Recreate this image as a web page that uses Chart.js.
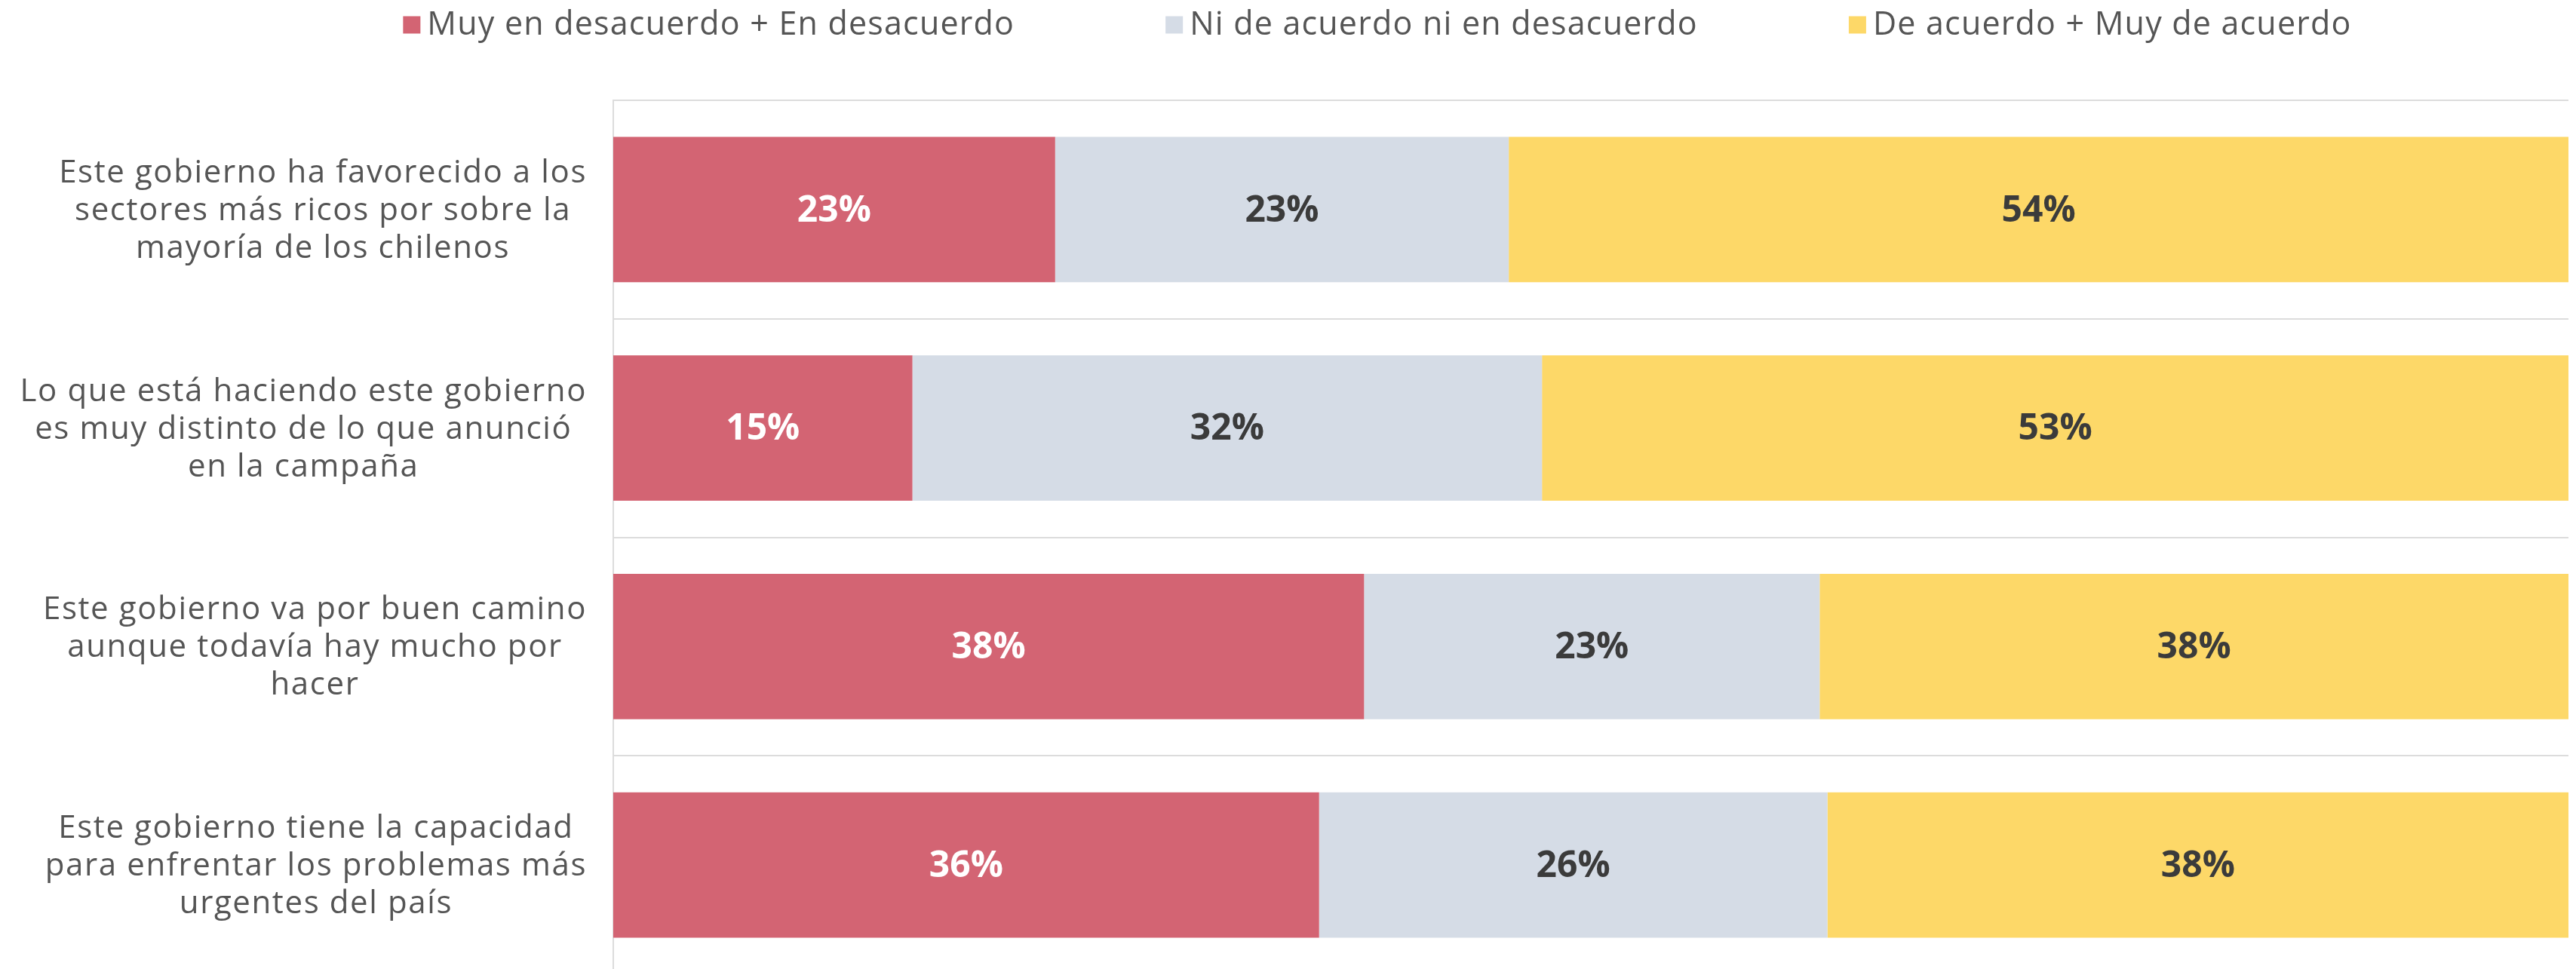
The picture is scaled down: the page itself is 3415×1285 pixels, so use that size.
<!DOCTYPE html>
<html>
<head>
<meta charset="utf-8">
<script src="https://cdn.jsdelivr.net/npm/chart.js@4.4.1/dist/chart.umd.min.js"></script>
<style>
    html, body { margin: 0; padding: 0; background: #fff; overflow: hidden; }
    #wrap { width: 3415px; height: 1285px; overflow: hidden; }
</style>
</head>
<body>
<div id="wrap"><canvas id="opinionChart" width="3415" height="1300"></canvas></div>
<script>
// Categories (each one split into its display lines)
var categories = [
    ['Este gobierno ha favorecido a los', 'sectores más ricos por sobre la', 'mayoría de los chilenos'],
    ['Lo que está haciendo este gobierno', 'es muy distinto de lo que anunció', 'en la campaña'],
    ['Este gobierno va por buen camino', 'aunque todavía hay mucho por', 'hacer'],
    ['Este gobierno tiene la capacidad', 'para enfrentar los problemas más', 'urgentes del país']
];
var seriesNames = ['Muy en desacuerdo + En desacuerdo', 'Ni de acuerdo ni en desacuerdo', 'De acuerdo + Muy de acuerdo'];
var desacuerdo = [22.6, 15.3, 38.4, 36.1];
var neutral = [23.2, 32.2, 23.3, 26.0];
var deAcuerdo = [54.2, 52.5, 38.3, 37.9];

var colors = ['#D36473', '#D5DCE6', '#FDD868'];
var valueColors = ['#ffffff', '#3b3b3b', '#3b3b3b'];
var textGray = '#555555';
var gridGray = '#dcdcdc';

// Legend drawn across the top
var topLegend = {
    id: 'topLegend',
    afterDraw: function(chart) {
        var ctx = chart.ctx;
        var box = 23, gap = 9, itemGap = 200, centerX = 1826, y = 33;
        ctx.save();
        ctx.font = '400 43px "Open Sans", sans-serif';
        ctx.letterSpacing = '1.2px';
        ctx.textBaseline = 'middle';
        ctx.textAlign = 'left';
        var widths = chart.data.datasets.map(function(ds) { return ctx.measureText(ds.label).width; });
        var total = 0;
        widths.forEach(function(w, i) { total += box + gap + w + (i > 0 ? itemGap : 0); });
        var x = centerX - total / 2;
        chart.data.datasets.forEach(function(ds, i) {
            ctx.fillStyle = ds.backgroundColor;
            ctx.fillRect(x, y - box / 2, box, box);
            ctx.fillStyle = textGray;
            ctx.fillText(ds.label, x + box + gap, y + 1);
            x += box + gap + widths[i] + itemGap;
        });
        ctx.restore();
    }
};

// Category labels: each block right-aligned to the axis, lines centred inside it
var categoryLabels = {
    id: 'categoryLabels',
    afterDraw: function(chart) {
        var ctx = chart.ctx;
        var yScale = chart.scales.y;
        var rightEdge = chart.chartArea.left - 35;
        var lineHeight = 50;
        ctx.save();
        ctx.font = '400 42px "Open Sans", sans-serif';
        ctx.letterSpacing = '1.6px';
        ctx.fillStyle = textGray;
        ctx.textAlign = 'center';
        ctx.textBaseline = 'middle';
        chart.data.labels.forEach(function(lines, i) {
            var maxW = Math.max.apply(null, lines.map(function(l) { return ctx.measureText(l).width; }));
            var cx = rightEdge - maxW / 2;
            var cy = yScale.getPixelForValue(i) + 2;
            var startY = cy - (lines.length - 1) * lineHeight / 2;
            lines.forEach(function(l, k) {
                ctx.fillText(l, cx, startY + k * lineHeight);
            });
        });
        ctx.restore();
    }
};

// Percent values in the middle of each segment
var barValues = {
    id: 'barValues',
    afterDatasetsDraw: function(chart) {
        var ctx = chart.ctx;
        ctx.save();
        ctx.font = '700 48px "Open Sans", sans-serif';
        ctx.textAlign = 'center';
        ctx.textBaseline = 'middle';
        chart.data.datasets.forEach(function(ds, di) {
            var meta = chart.getDatasetMeta(di);
            meta.data.forEach(function(bar, i) {
                var p = bar.getProps(['x', 'y', 'base'], true);
                ctx.fillStyle = valueColors[di];
                ctx.fillText(Math.round(ds.data[i]) + '%', (p.x + p.base) / 2, p.y + 2);
            });
        });
        ctx.restore();
    }
};

var ctx = document.getElementById('opinionChart').getContext('2d');
var opinionChart = new Chart(ctx, {
    type: 'bar',
    data: {
        labels: categories,
        datasets: [{
            label: seriesNames[0],
            data: desacuerdo,
            backgroundColor: colors[0]
        }, {
            label: seriesNames[1],
            data: neutral,
            backgroundColor: colors[1]
        }, {
            label: seriesNames[2],
            data: deAcuerdo,
            backgroundColor: colors[2]
        }]
    },
    options: {
        indexAxis: 'y',
        responsive: false,
        animation: false,
        devicePixelRatio: 1,
        layout: {
            padding: { top: 133, right: 10, bottom: 8, left: 0 }
        },
        datasets: {
            bar: {
                categoryPercentage: 1,
                barPercentage: 0.665,
                borderWidth: 0
            }
        },
        scales: {
            x: {
                stacked: true,
                display: false,
                min: 0,
                max: 100
            },
            y: {
                stacked: true,
                ticks: { display: false },
                grid: {
                    color: gridGray,
                    lineWidth: 2,
                    drawTicks: false,
                    offset: true
                },
                border: { display: true, color: gridGray, width: 2 },
                afterFit: function(scale) { scale.width = 813; }
            }
        },
        plugins: {
            legend: { display: false },
            tooltip: { enabled: false }
        }
    },
    plugins: [topLegend, categoryLabels, barValues]
});
</script>
</body>
</html>
